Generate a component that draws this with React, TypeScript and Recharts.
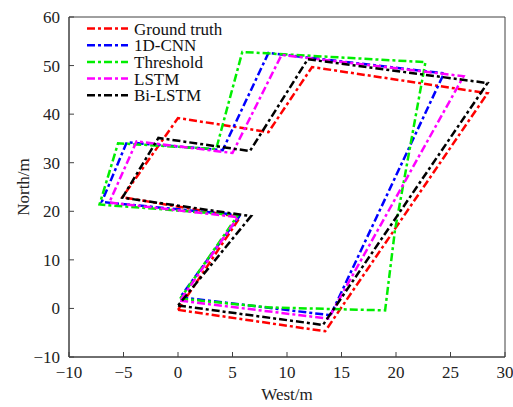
import { LineChart, Line, XAxis, YAxis, ReferenceArea } from "recharts";

// trajectories (West/m, North/m), each traced as a closed loop
const truthX = [0, 13.5, 28.4, 12.3, 8.3, 0, -5.1, 5.7, 0];
const truthY = [-0.3, -4.7, 44.3, 49.7, 36.3, 39.2, 22.9, 18.8, -0.3];

const cnnX = [0.2, 14, 24.4, 8.3, 4.1, -4.7, -7, 5.7, 0.2];
const cnnY = [2.3, -1.4, 48.4, 52.6, 32.6, 34.2, 21.9, 19.2, 2.3];

const thrX = [0.2, 8.4, 19, 19.9, 22.7, 5.9, 3.5, -5.5, -7.2, 5.5, 0.2];
const thrY = [2, 0.2, -0.4, 16, 50.7, 52.8, 32.8, 34, 21.4, 19.2, 2];

const lstmX = [0.2, 13.8, 26.2, 9.5, 5, -3.8, -6.3, 5.5, 0.2];
const lstmY = [1.6, -2.1, 47.8, 52.2, 32, 34.4, 21.8, 18.8, 1.6];

const biX = [0, 13.3, 28.4, 11.9, 6.6, -1.8, -5.1, 6.7, 0];
const biY = [0.6, -3.4, 46.4, 51.3, 32.4, 35.1, 22.8, 19, 0.6];

const xTicks = [-10, -5, 0, 5, 10, 15, 20, 25, 30];
const yTicks = [-10, 0, 10, 20, 30, 40, 50, 60];

const toPoints = (xs: number[], ys: number[]) => xs.map((x, i) => ({ x, y: ys[i] }));

const series = [
  { name: "Ground truth", color: "#ff0000", data: toPoints(truthX, truthY) },
  { name: "1D-CNN", color: "#0000ff", data: toPoints(cnnX, cnnY) },
  { name: "Threshold", color: "#00ee00", data: toPoints(thrX, thrY) },
  { name: "LSTM", color: "#ff00ff", data: toPoints(lstmX, lstmY) },
  { name: "Bi-LSTM", color: "#000000", data: toPoints(biX, biY) },
];

const FONT = "'Liberation Serif', 'Times New Roman', serif";
const AXIS = "#404040";
const DASH = "8 3 3 3";

const fmt = (v: number) => String(v).replace("-", "\u2212");

// ticks point into the plot, labels sit outside
const XTick = (props: any) => {
  const { x, y, payload } = props;
  return (
    <g>
      <line x1={x} y1={y} x2={x} y2={y - 5} stroke={AXIS} />
      <text x={x} y={y + 21} textAnchor="middle" fontFamily={FONT} fontSize={17} fill="#222">
        {fmt(payload.value)}
      </text>
    </g>
  );
};

const YTick = (props: any) => {
  const { x, y, payload } = props;
  return (
    <g>
      <line x1={x} y1={y} x2={x + 5} y2={y} stroke={AXIS} />
      <text x={x - 9} y={y + 6} textAnchor="end" fontFamily={FONT} fontSize={17} fill="#222">
        {fmt(payload.value)}
      </text>
    </g>
  );
};

// legend box drawn over the upper-left corner of the plot
const LegendBox = () => (
  <svg width={160} height={90} style={{ position: "absolute", left: 85, top: 18 }}>
    {series.map((s, i) => {
      const cy = 10.5 + i * 16.7;
      return (
        <g key={s.name}>
          <line x1={2} y1={cy} x2={43} y2={cy} stroke={s.color} strokeWidth={2.5} strokeDasharray={DASH} />
          <text x={49} y={cy + 6} fontFamily={FONT} fontSize={17} fill="#111">
            {s.name}
          </text>
        </g>
      );
    })}
  </svg>
);

export default function App() {
  return (
    <div style={{ position: "absolute", left: 0, top: 0, width: 513, height: 407, background: "#fff" }}>
      <LineChart width={513} height={407} margin={{ top: 17, right: 8, bottom: 20, left: 29 }}>
        <XAxis
          type="number"
          dataKey="x"
          domain={[-10, 30]}
          ticks={xTicks}
          allowDataOverflow
          height={30}
          tickSize={0}
          tickMargin={0}
          tickLine={false}
          tick={XTick}
          axisLine={{ stroke: AXIS }}
          label={{
            content: () => (
              <text x={287} y={400} textAnchor="middle" fontFamily={FONT} fontSize={17} fill="#222">
                West/m
              </text>
            ),
          }}
        />
        <YAxis
          type="number"
          dataKey="y"
          domain={[-10, 60]}
          ticks={yTicks}
          allowDataOverflow
          width={40}
          tickSize={0}
          tickMargin={0}
          tickLine={false}
          tick={YTick}
          axisLine={{ stroke: AXIS }}
          label={{
            content: () => (
              <text x={23} y={187} transform="rotate(-90 23 187)" textAnchor="middle" dominantBaseline="central" fontFamily={FONT} fontSize={17} fill="#222">
                North/m
              </text>
            ),
          }}
        />
        <ReferenceArea x1={-10} x2={30} y1={-10} y2={60} fill="none" stroke={AXIS} strokeWidth={1} ifOverflow="visible" />
        {series.map((s) => (
          <Line
            key={s.name}
            data={s.data}
            dataKey="y"
            name={s.name}
            type="linear"
            stroke={s.color}
            strokeWidth={2.5}
            strokeDasharray={DASH}
            dot={false}
            activeDot={false}
            isAnimationActive={false}
          />
        ))}
      </LineChart>
      <LegendBox />
    </div>
  );
}
